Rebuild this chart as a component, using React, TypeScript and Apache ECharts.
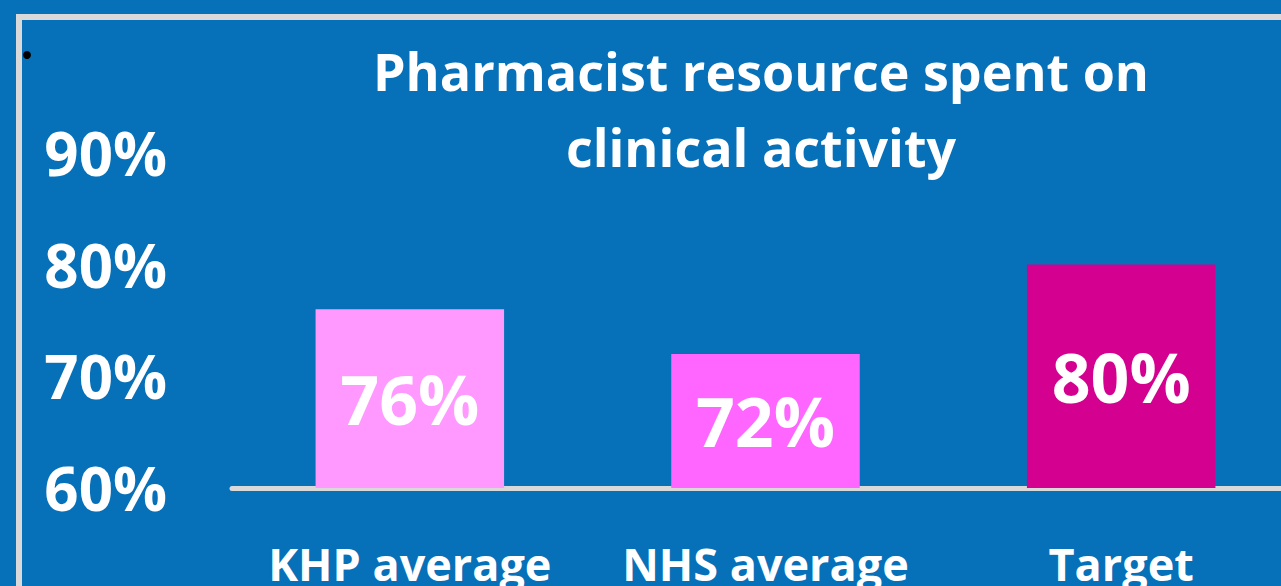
import React, { useEffect, useRef } from "react";
import * as echarts from "echarts";

const categories = ["KHP average", "NHS average", "Target"];
const values = [76, 72, 80];
const barColors = ["#FF99FF", "#FF66FF", "#D4008F"];
const yTicks = [60, 70, 80, 90];
const titleLines = ["Pharmacist resource spent on", "clinical activity"];

const BG = "#0670B8";
const FRAME = "#D9D9D9";
const FONT = "'Open Sans', 'Noto Sans', sans-serif";

export default function App() {
  const ref = useRef<HTMLDivElement>(null);
  useEffect(() => {
    if (!ref.current) return;
    const chart = echarts.init(ref.current, undefined, { renderer: "svg" });
    chart.setOption({
      animation: false,
      backgroundColor: BG,
      grid: { left: 232, right: 0, top: 152.75, bottom: 88, containLabel: false },
      xAxis: {
        type: "category",
        data: categories,
        axisLine: { show: true, lineStyle: { color: FRAME, width: 5 } },
        axisTick: { show: false },
        axisLabel: {
          color: "#FFFFFF",
          fontFamily: FONT,
          fontWeight: "bold",
          fontSize: 45,
          margin: 53,
          verticalAlign: "top",
          interval: 0,
        },
      },
      yAxis: {
        type: "value",
        min: yTicks[0],
        max: yTicks[yTicks.length - 1],
        interval: 10,
        axisLine: { show: false },
        axisTick: { show: false },
        splitLine: { show: false },
        axisLabel: {
          color: "#FFFFFF",
          fontFamily: FONT,
          fontWeight: "bold",
          fontSize: 60,
          margin: 65,
          formatter: (v: number) => `${v}%`,
        },
      },
      series: [
        {
          type: "bar",
          barCategoryGap: "47%",
          data: values.map((v, i) => ({ value: v, itemStyle: { color: barColors[i] } })),
          label: {
            show: true,
            position: "inside",
            color: "#FFFFFF",
            fontFamily: FONT,
            fontWeight: "bold",
            fontSize: 68,
            formatter: (p: any) => `${p.value}%`,
          },
        },
      ],
      graphic: [
        { type: "rect", shape: { x: 16, y: 14, width: 1300, height: 6 }, style: { fill: FRAME }, silent: true },
        { type: "rect", shape: { x: 16, y: 14, width: 6, height: 600 }, style: { fill: FRAME }, silent: true },
        { type: "circle", shape: { cx: 27, cy: 55, r: 4 }, style: { fill: "#000000" }, silent: true },
        {
          type: "text",
          x: 761,
          y: 32,
          style: {
            text: titleLines.join("\n"),
            fill: "#FFFFFF",
            font: `bold 52px ${FONT}`,
            align: "center",
            verticalAlign: "top",
            lineHeight: 76,
          },
        },
      ],
    });
    return () => chart.dispose();
  }, []);
  return (
    <div style={{ position: "absolute", left: 0, top: 0, width: 1281, height: 586, overflow: "hidden" }}>
      <div ref={ref} style={{ position: "absolute", left: 0, top: 0, width: 1299, height: 586 }} />
    </div>
  );
}
